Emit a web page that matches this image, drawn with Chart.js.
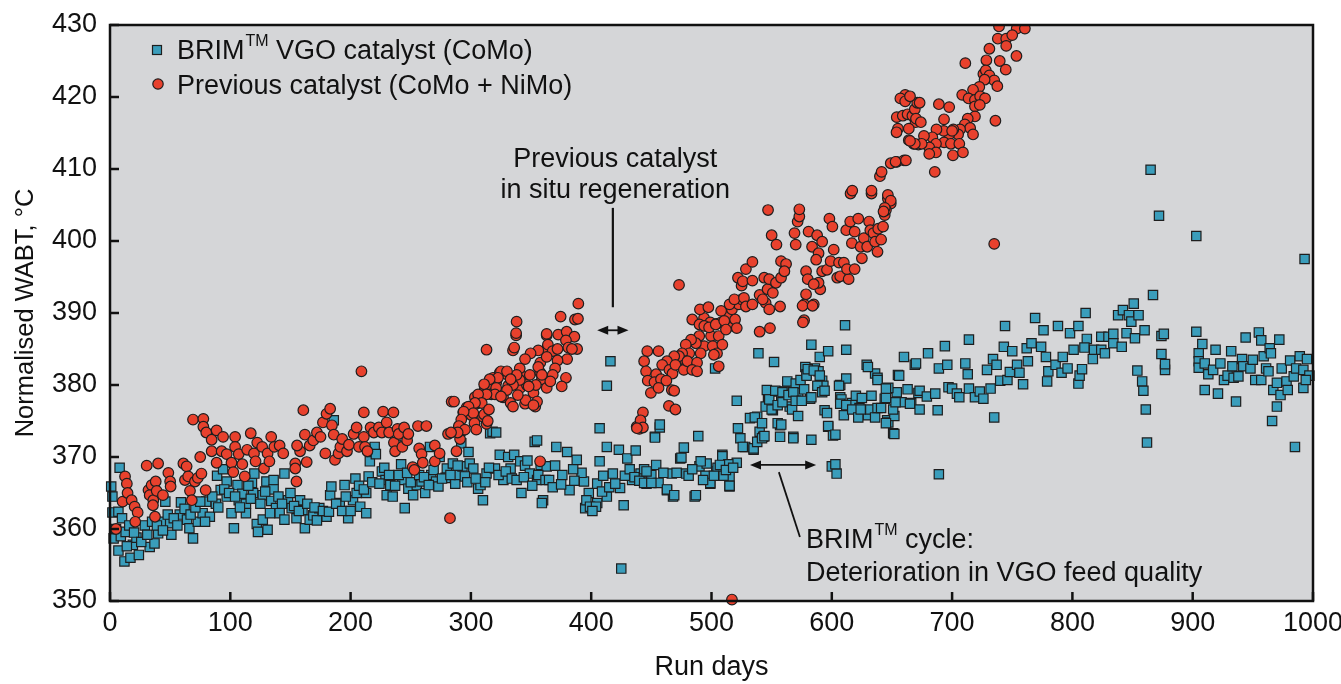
<!DOCTYPE html>
<html>
<head>
<meta charset="utf-8">
<script src="https://cdn.jsdelivr.net/npm/chart.js@4.4.0/dist/chart.umd.min.js"></script>
<style>
  html,body{margin:0;padding:0;background:#fff;}
  #wrap{width:1341px;height:684px;position:relative;}
</style>
</head>
<body>
<div id="wrap"><canvas id="c" width="1341" height="684"></canvas></div>
<script>
// axis ticks
const xTicks=[0,100,200,300,400,500,600,700,800,900,1000];
const yTicks=[350,360,370,380,390,400,410,420,430];

// BRIM VGO catalyst (CoMo): [run day, WABT]
const brimPoints=[
[1,365.9],[2,364.5],[2,362.3],[8,368.5],[7,362.4],[10,361.5],[3,358.7],[7,357],[12,355.5],[17,356],[24,356.4],[19,357.8],[14,357.6],[22,358.8],[29,360.5],[33,357.5],[37,358],[40,359.4],[46,363.8],[43,361],[50,360.8],[51,359.2],[59,363.7],[58,362],[64,361.3],[66,360.1],[69,358.7],[73,361],[77,362.2],[80,363.8],[83,361.7],[88,363.5],[89,367.4],[92,365.4],[94,368.3],[97,366.6],[97,364.5],[101,362.2],[103,360.1],[106,366.1],[107,364],[110,364.9],[113,363.5],[113,362.2],[118,366.4],[120,367.7],[119,365],[122,360.7],[123,359.6],[127,364.7],[127,361.3],[130,366.6],[131,359.9],[134,363.9],[136,366.8],[136,365.5],[138,362.9],[141,362.2],[145,367.7],[145,361.3],[148,364],[151,362.9],[155,361.5],[158,364],[160,362.6],[162,360.1],[166,361.3],[169,361.9],[174,362.9],[180,361.7],[183,364.7],[186,375.1],[184,365.9],[191,363.6],[195,366.1],[198,361.5],[202,364],[205,365],[208,363.1],[213,365],[213,362.2],[216,369.4],[215,367.3],[220,371.4],[221,370.4],[226,368],[229,366.8],[230,364.7],[233,366.1],[235,364.5],[238,371.7],[242,369],[243,366.8],[245,362.9],[248,365.6],[252,364.7],[255,366.1],[259,366.6],[262,365],[266,371.4],[267,367.5],[271,366.6],[273,365.9],[274,370],[280,368.4],[279,367.1],[285,369.1],[287,366.3],[290,367.5],[292,371.9],[293,368.7],[298,370.7],[299,369.1],[302,368.4],[306,365.6],[308,366.1],[310,364],[313,367.7],[316,373.3],[318,373.5],[321,373.4],[320,368.4],[324,370.3],[327,366.8],[331,370],[333,368.4],[336,370.3],[341,369.4],[342,365],[345,368.8],[349,367.7],[353,372.1],[355,366.8],[358,368.9],[360,364],[359,363.6],[363,368.7],
[5,360],[9,359],[13,359.6],[16,360.5],[20,359.5],[26,358.2],[31,359.2],[35,361],[39,360.5],[44,359.8],[48,362],[53,361.5],[56,360.5],[62,362.8],[67,362],[71,363],[75,363.8],[79,361],[85,364.5],[90,363],[95,365.5],[99,365],[104,364.5],[108,363],[115,366],[117,364.2],[125,363.5],[129,365.2],[133,362.2],[140,364.5],[143,363.5],[150,365],[153,363.2],[157,362.5],[164,363.5],[170,363],[172,361.2],[177,362.5],[182,362.4],[188,363.5],[193,362.5],[196,364.5],[200,362.5],[204,367],[207,366],[211,365.5],[218,366.5],[224,366.3],[228,368.5],[232,367.5],[237,366],[240,367.5],[247,367.8],[250,366.5],[257,367.5],[261,367.2],[265,366.1],[269,368.2],[276,367],[283,367.5],[289,368.8],[295,367.3],[297,366.5],[304,367],[312,366.5],[315,368.5],[323,367.5],[329,368],[334,367],[338,366.8],[344,367.2],[347,369.5],[351,366],[356,367.5],[362,366.8],
[365,366.8],[371,371.4],[380,370.7],[355,372.3],[388,369.6],[382,365.4],[394,366.6],[395,362.9],[398,365],[405,366.3],[405,363.6],[407,369.4],[413,364.5],[413,371.4],[418,367.7],[423,371],[424,365.7],[427,363.3],[430,369.8],[434,366.8],[437,370.9],[441,367.7],[446,366.3],[453,372.8],[454,368.9],[457,374.1],[463,365.4],[468,364.5],[467,367.7],[474,369.8],[477,371.3],[479,367.7],[486,364.5],[489,372.9],[490,368.7],[496,369.1],[499,366.3],[503,382.3],[504,368],[509,370.3],[515,365.9],[515,367.3],[416,383.3],[413,379.9],[407,374],[425,354.5],[396,364],[399,363.1],[404,363.1],[401,362.5],[409,365.2],[392,367.8],[385,368.3],[376,367.5],[370,368.8],[368,365.8],[375,366.2],[386,366.7],[410,367.4],[415,365.8],[420,366.3],[428,367.4],[432,368.3],[436,367.2],[440,366.7],[444,368.3],[450,367.5],[456,366.4],[460,367.8],[444,366.4],[450,366.4],[446,368],[463,365.5],[469,364.7],[471,367.8],[475,369.9],[481,367.4],[487,364.7],[491,369.4],[495,367.4],[499,366.4],[505,368.5],[509,370.1],[510,367.4],[515,366],[521,369.2],[514,369],[484,368.3],[493,366.8],[502,367.4],[507,368.9],[512,368.2],[518,368.5],
[521,377.8],[522,374],[524,372.6],[528,371.4],[532,375.4],[535,371],[538,375.6],[540,373.5],[543,372.8],[546,379.3],[547,377.9],[539,384.4],[551,376.5],[552,383.2],[554,379.1],[557,374.4],[558,377.9],[561,379.1],[563,380.5],[565,377],[568,372.8],[570,380.2],[572,378.9],[574,380.7],[578,382.5],[579,381.5],[583,385.6],[582,378.1],[583,372.4],[586,382.3],[589,381.9],[590,383.9],[592,380.6],[593,379.9],[597,384.7],[611,388.3],[612,384.9],[600,368.7],[604,367.7],[594,376.5],[597,374.2],[601,373],[607,380],[612,380.9],[607,378.3],[617,377.5],[623,376.8],[629,382.8],[636,381.6],[638,381],[646,379.5],[644,378.1],[651,373.3],[655,381.4],[660,383.9],[669,382.8],[630,375.8],[646,375.1],[654,379],[457,374.5],[453,372.7],[526,371.4],[536,375.5],[535,371.2],[538,372.1],[542,372.6],[544,372.9],[542,374.7],[545,377],[548,378],[550,376.6],[553,379.2],[555,377.2],[555,374.7],[558,374.5],[559,377.6],[559,379],[564,378.6],[567,376.6],[568,379],[570,377.8],[572,375.7],[575,377.8],[577,379.4],[579,381.3],[580,382.2],[583,378.3],[585,382],[588,379.9],[590,381.3],[592,379],[594,379.2],[557,372.8],[568,372.6],[603,369],[597,374.3],[603,373.1],[606,379.9],[608,378],[610,375.8],[596,376.1],[607,377.4],[612,377.2],[617,376.6],[620,378.5],[622,375.5],[624,376.6],[625,378.2],[630,382.5],[638,380.7],[632,376.6],[633,378.5],[636,375.5],[638,376.8],[641,376.8],[645,378.2],[647,379.6],[647,374.8],[652,375.7],[652,373.2],[656,381.3],[658,377.6],[663,379.4],[666,377.5],[670,383],[672,378.9],
[645,374.7],[651,376.6],[645,379.5],[653,377.6],[665,377.4],[673,376.6],[673,379.2],[680,384.4],[679,378.4],[686,378.8],[688,376.5],[689,367.6],[689,382.3],[694,385.4],[696,382.8],[697,379.7],[700,379.5],[704,378.8],[706,378.3],[711,383],[713,381.5],[714,386.3],[714,379.5],[719,378.3],[723,379.1],[726,378.1],[729,382.1],[732,379.5],[735,375.5],[734,383.6],[737,382.8],[740,380.6],[744,388.2],[743,385.3],[746,380.7],[748,381.8],[750,384.7],[754,382.8],[756,381.7],[759,380.1],[762,385.1],[763,383.3],[766,385.8],[769,389.3],[774,385.3],[776,387.6],[778,383.9],[779,380.5],[780,381.9],[786,382.8],[788,388.2],[791,381.7],[792,383.9],[796,382.3],[798,387.2],[801,384.9],[805,388.2],[805,380.2],[806,381.3],[808,382.2],[811,390],[812,386.4],[810,385.2],[817,383.6],[818,384.9],[824,384.9],[824,386.7],[827,384.4],[830,386.7],[834,387.1],[834,385.8],[838,389.7],[841,385.3],[842,390.4],[845,387.2],[847,389.7],[851,391.3],[849,388.8],[852,386.5],[855,389.7],[860,387.6],[854,382],[858,380.5],[859,379.2],[861,376.6],[862,372],[874,386.8],[876,387.1],[874,384.3],[877,382.1],[877,382.9],[865,409.9],[872,403.5],[903,400.7],[993,397.5],[867,392.5],[903,387.4],[908,385.7],[905,384.4],[905,383.3],[905,382.4],[910,383],[910,379.3],[913,381.5],[917,382.1],[919,384.9],[921,378.8],[923,383],[926,380.7],[929,381.3],[932,384.7],[933,382.6],[936,377.7],[934,381],[938,381.2],[941,383.6],[942,382.6],[944,386.6],[948,382.3],[950,383.5],[952,380.7],[955,387.3],[957,386.2],[957,380.7],[959,384],[961,382.3],[963,381.9],[964,385.1],[965,384.4],[966,375],[967,379.3],[970,377],[970,380.3],[972,386.3],[973,378.6],[974,382.3],[978,380.5],[979,379.3],[981,383.4],[984,381.2],[985,371.4],[986,382.3],[989,384],[992,379.6],[992,382.1],[995,383.6],[997,381.3],[994,380.7]
];

// Previous catalyst (CoMo + NiMo): [run day, WABT]
const prevPoints=[
[5,360],[12.5,367.3],[14,366.3],[10.5,363.8],[14.6,365],[18,364],[20.5,363.1],[23,362.3],[21,361],[30.5,368.8],[32,365.4],[34.6,366.1],[33,364.7],[36,364],[35.7,363.3],[40,369.1],[38,366.6],[38.8,365.3],[37.4,361.7],[44,364.7],[48.5,367.8],[50,366.6],[50.4,365.9],[61,369.1],[63.7,368.7],[62.3,366.8],[65,367.3],[66.5,365.3],[68,364],[70.6,366.6],[73,367.1],[76,367.7],[75,370],[79.5,365.4],[69,375.2],[77.6,375.3],[77.6,374.2],[80,373.4],[84.5,372.4],[88.6,373.7],[84.5,370.8],[88.6,369.2],[92.8,370.8],[94,372.8],[97,370.4],[101,369.2],[102.5,367.9],[104,372.8],[104,371.4],[107,370.4],[110,369],[112,367.3],[114,371],[117,373.3],[119.7,370.5],[121,369.4],[122.4,372],[126.5,371.4],[128,368.4],[131,370.5],[132.5,369.4],[134,372.8],[136.6,371.4],[141,371.6],[144,370.5],[154,369.1],[154,368.4],[155,366.6],[158,370.8],[155.5,371.6],[160.7,376.5],[162,373.1],[163.5,369.3],[166,371.6],[169,372.3],[172,373.4],[175,372.8],[177,374.8],[179,370.5],[180,376],[183,376.7],[184.5,374.4],[186,373.1],[187,369.6],[190,370.5],[191.5,371.4],[193,372.5],[197,370.8],[198.6,371.7],[202.5,373.2],[205,374.1],[207,371.4],[209,381.9],[211,376.2],[211,372.8],[212,371.4],[214,370.8],[216.6,374.1],[219.3,373.4],[223.5,374.1],[226,373.4],[227,376.3],[230,374.8],[232,373.4],[235.6,376.2],[236,372],[237,370.8],[239,373.9],[240,373.2],[243,371.4],[244.5,374.1],[247,372.3],[248,373.2],[251.6,368.6],[253,368.2],[256,374.3],[257,371.2],[259,370.4],[260,369.2],[263,374.3],[270,371.6],[270,369.4],[274,370.5],[281,373.2],[282.6,361.5],[284,377.7],[288,370.8],[289.6,373.9],[291,372.5],[293.6,376.2],[293.6,373.7],[296.5,376.9],[300.5,375.8],[303.3,378.3],[304.6,377.4],[307.4,377.6],[310,375.6],[311.6,379.6],[313,384.9],[313,374.6],[314.6,380.1],[317,378.7],[318.4,381],[321,380.3],[324,381.7],[326.7,378.3],[329.5,381.5],[331,379.9],[335,384.8],[337.6,386.9],[338,388.8],[341,379.6],[342,381.3],[345,377.4],[346.5,380],[349,381.4],[352,378.9],[353.5,377],[357.7,381.7],[357.7,383.1],[359,380.8],[363,386.9],[363,379.6],[363,385],
[389.3,391.3],[374.6,389.5],[386.5,389.1],[389,389.2],[337.6,387.2],[363,387.1],[372.6,387],[379.6,387.4],[386,386.7],[379,386.2],[381,385.2],[388.3,385],[384,385],[336,385.2],[364,385.6],[368,384.7],[372,385],[380,383.6],[372,383.4],[363,383.9],[356,384.8],[349.6,384.4],[345,383.6],[340.6,382.3],[356,382.5],[370,382.3],[368,381.4],[379,381],[375.5,379.8],[366,380.5],[359,381.4],[354,380],[348,379.8],[345.5,377.9],[355,377.7],[352,377.2],[340.6,380.7],[338,381.4],[335,380],[330,379.3],[339,378.6],[325,381.9],[330,381.9],[333,380.8],[322.5,381],[315.6,380.8],[311,380.1],[321,379.6],[320,378.7],[325,378.4],[333,377.5],[335,377],[313,378.7],[306,378.7],[309,377.5],[303.4,377.5],[298,377],[286,377.7],[302,376.1],[311,375.9],[315,376.6],[314,375],[294,376.3],[292,375.2],[290,374.3],[303,374.7],[304.5,373.8],[295,373.8],[289,373.4],[283.5,373.4],[357.5,369.4],[437.8,374.2],
[493.8,389.3],[499,388.7],[504,388.5],[508,388.7],[512.5,388.9],[515,389.8],[518,388.2],[519.6,389.1],[521,387.9],[517,390.5],[522.6,391.2],[525,391.9],[548.6,387.9],[557,390.9],[577,389],[585,391.2],[577,391.2],[545,391.4],[494,385.4],[499.6,386.8],[501,385.4],[506,386.8],[504.6,384.4],[509,385.6],[502,384.2],[489.8,386.8],[491,384.4],[487,385.8],[483,386.3],[478.6,385.6],[481.5,384.4],[475.6,384.4],[478.6,383.3],[473,384],[469,384],[463,383.3],[459,382.8],[465,382.1],[467.6,381.6],[470,382.8],[477,382.1],[480,383.3],[488,383.1],[484,382.1],[488,381.9],[506,382.6],[456,384.7],[446.6,384.7],[444,383.3],[445.6,381.9],[447,380.6],[454,381.5],[452.6,380.4],[458,380.8],[462.5,380.6],[449.6,378.9],[456,379.6],[467,379.3],[469,379.2],[464.6,377.1],[470,376.6],[443,376.2],[441,375.1],[440,373.9],[443,374.1],[438,374],
[473,393.9],[490.4,390.5],[497.4,390.8],[484,389.1],[490,388.4],[494,388.2],[498,388],[503.5,388.4],[508,390.3],[510.6,388.9],[512,387.7],[515,391.2],[519,391.9],[522,394.9],[525,393.8],[526,394.4],[528.6,396.1],[534,397.1],[534,394.5],[527,392.1],[528.6,390.9],[534,391.2],[540,392.5],[542.6,391.9],[546.6,393.3],[543.8,394.9],[548,394.7],[540,387.4],[548,390.5],[551,392.8],[553.6,394.2],[557.8,394.9],[557.8,397.2],[562,396.8],[560.6,395.8],[547,404.3],[550,400.8],[554,399.5],[569,401.1],[570,399.5],[571.6,402.7],[573,403.4],[573,404.4],[578.6,395.8],[580,394.7],[578.6,392.6],[575.7,391],[584,391],[576,388.7],[580.7,401.3],[583.6,399.2],[587.8,400.8],[589,398.3],[587,397.4],[592,399.9],[590.4,393.3],[589,394.2],[592,395.8],[585,394],[598,403.1],[600.5,402],[596,396],[599,397.2],[601.6,398.8],[604.5,394.9],[606,397],[607,395.1],[612,401.5],[610,397],[614,394.7],[612.6,396.1],[615.3,402.7],[616.7,399.7],[619,401.3],[619,396.1],[622,403.1],[624,399.2],[625,397.6],[626.6,400.4],[629.4,399.2],[631,402.7],[632,401.5],[633,406.6],[615.6,406.6],[634.6,401.1],[636,399.9],[638.6,401.7],[640,409],[641,400.2],[642.6,402],[644,403.6],[646.6,405.9],[649,405.2],[649,410.8],[645,404.3],[638,398.5],[517,350.2],
[661,420.3],[657,419.8],[654,417.2],[659,417.4],[663,417.6],[667,417.4],[669,418.3],[671,419.2],[669.6,416.5],[655,415.6],[653.8,415.1],[664,415.6],[664,414],[668,413.5],[672,413.4],[654,411],[660,411.2],[641.4,409.6],[617,407],[633,407],[646.6,406.4],[649,405.6],[644,404.6],[643,404.1],
[739,429.8],[753.7,429.5],[760.5,429.5],[738,428.1],[745,428.1],[750,428.6],[745,427.1],[753.5,425.7],[731,426.7],[728.5,425.1],[739.6,425],[744.6,423.8],[711,424.7],[726,423.2],[728,423.7],[731,423],[735,422.3],[737.6,421.5],[727,422.4],[722.6,421.4],[717.4,421],[708.4,420.3],[713.7,419.8],[719,419.6],[723.3,420.1],[727.4,419.8],[719,418.7],[723,418.9],[719,417.3],[713,417],[710.6,416.2],[715,415.7],[717.4,414.8],[706.6,415.5],[736,416.7],[705,414.8],[701,415.5],[697.6,414.8],[693.3,416.9],[689,419],[697.6,418.6],[693,415.3],[687,415.5],[683.6,414.4],[676.6,414.6],[693.3,413.7],[699,413.5],[706,413.5],[686.6,413.5],[681,413],[674.7,413.5],[669,413.5],[665,413.9],[686.6,412.3],[681,412.1],[700.7,411.9],[709,412.3],[685.6,409.6],[661,419.4],[665,420.1],[653,411],[661.6,411.2],[673,419.2],[670,417],[674,416.5],[700,415.3],[735,399.6],[762,431]
];

const BLUE='#3a9dbb', RED='#e8412d', EDGE='#1e1e1e';
const FONT='"Liberation Sans", Arial, Helvetica, sans-serif';
const TXT='27px '+FONT;

function arrow(ctx,x1,y,x2){
  ctx.beginPath(); ctx.moveTo(x1+6,y); ctx.lineTo(x2-6,y); ctx.stroke();
  [[x1,1],[x2,-1]].forEach(([x,d])=>{
    ctx.beginPath(); ctx.moveTo(x,y); ctx.lineTo(x+d*11,y-4.5); ctx.lineTo(x+d*11,y+4.5); ctx.closePath(); ctx.fill();
  });
}

function tmText(ctx,x,y,a,b){
  // text with superscript TM in the middle
  ctx.font=TXT; ctx.textAlign='left'; ctx.textBaseline='middle';
  ctx.fillText(a,x,y); let w=ctx.measureText(a).width;
  ctx.font='16px '+FONT; ctx.fillText('TM',x+w+1,y-10); w+=ctx.measureText('TM').width+1;
  ctx.font=TXT; ctx.fillText(b,x+w,y);
}

const decor={
  id:'decor',
  beforeDraw(chart){
    const {ctx,chartArea:a}=chart;
    ctx.save(); ctx.fillStyle='#d5d6d8'; ctx.fillRect(a.left,a.top,a.width,a.height); ctx.restore();
  },
  afterDatasetsDraw(chart){
    const {ctx,chartArea:a,scales:{x,y}}=chart;
    ctx.save();
    ctx.strokeStyle='#111'; ctx.fillStyle='#111';
    // inward ticks
    ctx.lineWidth=2.5;
    xTicks.forEach(v=>{const p=x.getPixelForValue(v); ctx.beginPath(); ctx.moveTo(p,a.bottom); ctx.lineTo(p,a.bottom-9); ctx.stroke();});
    yTicks.forEach(v=>{const p=y.getPixelForValue(v); ctx.beginPath(); ctx.moveTo(a.left,p); ctx.lineTo(a.left+9,p); ctx.stroke();});
    // frame
    ctx.lineWidth=2.5; ctx.strokeRect(a.left,a.top,a.width,a.height);

    // legend
    ctx.lineWidth=1.2; ctx.strokeStyle=EDGE;
    ctx.fillStyle=BLUE; ctx.fillRect(152.5,45.5,9,9); ctx.strokeRect(152.5,45.5,9,9);
    ctx.fillStyle=RED; ctx.beginPath(); ctx.arc(158,84,5.2,0,Math.PI*2); ctx.fill(); ctx.stroke();
    ctx.fillStyle='#111';
    tmText(ctx,177,52,'BRIM',' VGO catalyst (CoMo)');
    ctx.font=TXT; ctx.textBaseline='middle'; ctx.fillText('Previous catalyst (CoMo + NiMo)',177,87);

    // regeneration annotation
    ctx.strokeStyle='#111'; ctx.fillStyle='#111'; ctx.lineWidth=2.2;
    const rx=x.getPixelForValue(418);
    ctx.textAlign='center';
    ctx.fillText('Previous catalyst',x.getPixelForValue(420),160);
    ctx.fillText('in situ regeneration',x.getPixelForValue(420),191);
    ctx.beginPath(); ctx.moveTo(rx,y.getPixelForValue(404.6)); ctx.lineTo(rx,y.getPixelForValue(390.8)); ctx.stroke();
    ctx.lineWidth=1.8;
    arrow(ctx,x.getPixelForValue(405),y.getPixelForValue(387.6),x.getPixelForValue(431));

    // BRIM cycle annotation
    arrow(ctx,x.getPixelForValue(532),y.getPixelForValue(368.9),x.getPixelForValue(587));
    ctx.lineWidth=1.8;
    ctx.beginPath(); ctx.moveTo(x.getPixelForValue(556),y.getPixelForValue(367.9)); ctx.lineTo(x.getPixelForValue(573.5),y.getPixelForValue(358.9)); ctx.stroke();
    tmText(ctx,x.getPixelForValue(578.5),541,'BRIM',' cycle:');
    ctx.font=TXT; ctx.textAlign='left'; ctx.textBaseline='middle';
    ctx.fillText('Deterioration in VGO feed quality',x.getPixelForValue(578.5),574);
    ctx.restore();
  }
};

new Chart(document.getElementById('c'),{
  type:'scatter',
  data:{datasets:[
    {label:'Previous catalyst (CoMo + NiMo)',data:prevPoints,pointStyle:'circle',pointRadius:5.3,
     backgroundColor:RED,borderColor:EDGE,borderWidth:1.2,order:1,clip:{left:8,right:8,top:0,bottom:8}},
    {label:'BRIM VGO catalyst (CoMo)',data:brimPoints,pointStyle:'rect',pointRadius:6.6,
     backgroundColor:BLUE,borderColor:EDGE,borderWidth:1.2,order:2,clip:{left:8,right:8,top:0,bottom:8}}
  ]},
  options:{
    responsive:false,animation:false,events:[],
    layout:{padding:{top:25,right:28,left:0,bottom:0}},
    plugins:{legend:{display:false},tooltip:{enabled:false}},
    scales:{
      x:{type:'linear',min:0,max:1000,
        afterFit(s){s.height=83; s.paddingLeft=0; s.paddingRight=0;},
        afterBuildTicks(s){s.ticks=xTicks.map(v=>({value:v}));},
        grid:{display:false,drawTicks:false},border:{display:false},
        ticks:{autoSkip:false,maxRotation:0,padding:6,color:'#111',font:{family:FONT,size:27},callback:v=>String(v)},
        title:{display:true,text:'Run days',color:'#111',font:{family:FONT,size:27},padding:{top:0,bottom:0}}},
      y:{type:'linear',min:350,max:430,
        afterFit(s){s.width=110; s.paddingTop=0; s.paddingBottom=0;},
        afterBuildTicks(s){s.ticks=yTicks.map(v=>({value:v}));},
        grid:{display:false,drawTicks:false},border:{display:false},
        ticks:{padding:13,color:'#111',font:{family:FONT,size:27},callback:v=>String(v)},
        title:{display:true,text:'Normalised WABT, °C',color:'#111',font:{family:FONT,size:25.5},padding:{top:11,bottom:0}}}
    }
  },
  plugins:[decor]
});
</script>
</body>
</html>
